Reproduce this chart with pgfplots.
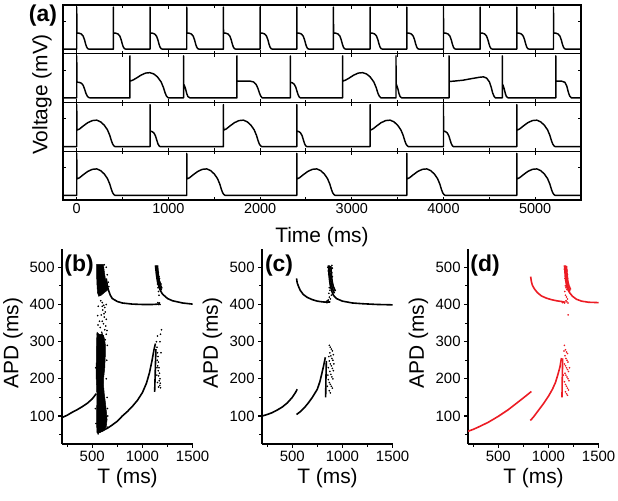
\documentclass[border=0pt]{standalone}
\usepackage{fontspec}
\setmainfont{Liberation Sans}
\usepackage{pgfplots}
\pgfplotsset{compat=1.18}
\definecolor{myred}{RGB}{236,28,36}
\begin{document}
\begin{tikzpicture}
\path[use as bounding box] (0,0) rectangle (618bp,-501bp);
\pgfplotsset{
 every axis/.append style={/pgf/number format/assume math mode=true, /pgf/number format/1000 sep={}},
 vrow/.style={scale only axis, width=518bp, height=48.75bp, xmin=-150, xmax=5500, ymin=-0.11, ymax=1.05,
   xtick={0,1000,2000,3000,4000,5000}, minor xtick={500,1500,2500,3500,4500}, ytick={0.66},
   tick align=inside, major tick length=3.5bp, minor tick length=3bp,
   axis line style={line width=1.2bp}, tick style={line width=1bp, black},
   yticklabels={}, anchor=south west,
   xticklabel style={font=\fontsize{14.5}{16}\selectfont}},
 vcurve/.style={black, line width=1.45bp, line join=round},
 apd/.style={scale only axis, width=130.5bp, height=195.2bp,
   xmin=200, xmax=1500, ymin=25, ymax=550,
   axis x line*=bottom, axis y line*=left,
   xtick={500,1000,1500}, ytick={100,200,300,400,500},
   minor xtick={250,750,1250}, minor ytick={50,150,250,350,450},
   tick align=outside, major tick length=4bp, minor tick length=3bp,
   axis line style={line width=1.3bp}, tick style={line width=1.1bp, black},
   ticklabel style={font=\fontsize{15}{17}\selectfont},
   anchor=south west},
 br/.style={line width=1.6bp, line join=round},
 dots/.style={only marks, mark=*, mark size=0.6bp},
}
% ---------- (a) row 1 ----------
\begin{axis}[vrow, at={(63bp,-53.75bp)}, xticklabels={}]
\addplot[vcurve] coordinates {(-150,0)
(0,0) (0,1) (1,0.38) (25,0.38) (50,0.36) (70,0.31) (85,0.22) (97,0.12) (108,0.05) (120,0.01) (135,0)
(400,0) (400,1) (401,0.38) (425,0.38) (450,0.36) (470,0.31) (485,0.22) (497,0.12) (508,0.05) (520,0.01) (535,0)
(800,0) (800,1) (801,0.38) (825,0.38) (850,0.36) (870,0.31) (885,0.22) (897,0.12) (908,0.05) (920,0.01) (935,0)
(1200,0) (1200,1) (1201,0.38) (1225,0.38) (1250,0.36) (1270,0.31) (1285,0.22) (1297,0.12) (1308,0.05) (1320,0.01) (1335,0)
(1600,0) (1600,1) (1601,0.38) (1625,0.38) (1650,0.36) (1670,0.31) (1685,0.22) (1697,0.12) (1708,0.05) (1720,0.01) (1735,0)
(2000,0) (2000,1) (2001,0.38) (2025,0.38) (2050,0.36) (2070,0.31) (2085,0.22) (2097,0.12) (2108,0.05) (2120,0.01) (2135,0)
(2400,0) (2400,1) (2401,0.38) (2425,0.38) (2450,0.36) (2470,0.31) (2485,0.22) (2497,0.12) (2508,0.05) (2520,0.01) (2535,0)
(2800,0) (2800,1) (2801,0.38) (2825,0.38) (2850,0.36) (2870,0.31) (2885,0.22) (2897,0.12) (2908,0.05) (2920,0.01) (2935,0)
(3200,0) (3200,1) (3201,0.38) (3225,0.38) (3250,0.36) (3270,0.31) (3285,0.22) (3297,0.12) (3308,0.05) (3320,0.01) (3335,0)
(3600,0) (3600,1) (3601,0.38) (3625,0.38) (3650,0.36) (3670,0.31) (3685,0.22) (3697,0.12) (3708,0.05) (3720,0.01) (3735,0)
(4000,0) (4000,1) (4001,0.38) (4025,0.38) (4050,0.36) (4070,0.31) (4085,0.22) (4097,0.12) (4108,0.05) (4120,0.01) (4135,0)
(4400,0) (4400,1) (4401,0.38) (4425,0.38) (4450,0.36) (4470,0.31) (4485,0.22) (4497,0.12) (4508,0.05) (4520,0.01) (4535,0)
(4800,0) (4800,1) (4801,0.38) (4825,0.38) (4850,0.36) (4870,0.31) (4885,0.22) (4897,0.12) (4908,0.05) (4920,0.01) (4935,0)
(5200,0) (5200,1) (5201,0.38) (5225,0.38) (5250,0.36) (5270,0.31) (5285,0.22) (5297,0.12) (5308,0.05) (5320,0.01) (5335,0)
(5500,0)};
\end{axis}
% ---------- (a) row 2 ----------
\begin{axis}[vrow, at={(63bp,-102.5bp)}, xticklabels={}]
\addplot[vcurve] coordinates {(-150,0)
(0,0)(0,1)(1,0.375)(25,0.37)(50,0.35)(70,0.30)(85,0.21)(100,0.11)(115,0.04)(130,0.01)(145,0)
(580,0)(580,1)(581,0.40)(610,0.42)(650,0.47)(700,0.54)(750,0.59)(798,0.60)(840,0.57)(880,0.50)(920,0.38)(945,0.25)(965,0.11)(980,0.04)(998,0)
(1165,0)(1165,1)(1166,0.33)(1173,0.30)(1186,0.22)(1200,0.10)(1213,0.03)(1235,0)
(1747,0)(1747,1)(1748,0.40)(1807,0.40)(1887,0.40)(1927,0.38)(1957,0.32)(1977,0.22)(1992,0.12)(2005,0.05)(2022,0)
(2330,0)(2330,1)(2331,0.37)(2350,0.36)(2370,0.33)(2388,0.26)(2402,0.16)(2415,0.07)(2427,0.02)(2440,0)
(2900,0)(2900,1)(2901,0.40)(2930,0.42)(2970,0.47)(3020,0.54)(3070,0.59)(3118,0.60)(3160,0.57)(3200,0.50)(3240,0.38)(3265,0.25)(3285,0.11)(3300,0.04)(3318,0)
(3482,0)(3482,1)(3483,0.33)(3490,0.30)(3502,0.22)(3515,0.10)(3527,0.03)(3545,0)
(4061,0)(4061,1)(4062,0.39)(4121,0.40)(4211,0.42)(4311,0.46)(4391,0.49)(4436,0.50)(4471,0.47)(4501,0.38)(4521,0.25)(4536,0.12)(4551,0.04)(4566,0)
(4642,0)(4642,1)(4643,0.33)(4650,0.30)(4662,0.22)(4675,0.10)(4687,0.03)(4705,0)
(5225,0)(5225,1)(5226,0.40)(5285,0.40)(5325,0.37)(5345,0.28)(5360,0.15)(5375,0.05)(5395,0)
(5500,0)};
\end{axis}
% ---------- (a) row 3 ----------
\begin{axis}[vrow, at={(63bp,-151.25bp)}, xticklabels={}]
\addplot[vcurve] coordinates {(-150,0)
(0,0)(0,1)(1,0.39)(30,0.42)(70,0.49)(120,0.57)(170,0.62)(218,0.63)(260,0.59)(300,0.51)(335,0.40)(360,0.27)(378,0.14)(392,0.06)(405,0.02)(418,0)
(800,0)(800,1)(801,0.37)(820,0.36)(840,0.33)(858,0.26)(872,0.16)(885,0.07)(897,0.02)(910,0)
(1600,0)(1600,1)(1601,0.39)(1630,0.42)(1670,0.49)(1720,0.57)(1770,0.62)(1818,0.63)(1860,0.59)(1900,0.51)(1935,0.40)(1960,0.27)(1978,0.14)(1992,0.06)(2005,0.02)(2018,0)
(2400,0)(2400,1)(2401,0.37)(2420,0.36)(2440,0.33)(2458,0.26)(2472,0.16)(2485,0.07)(2497,0.02)(2510,0)
(3200,0)(3200,1)(3201,0.39)(3230,0.42)(3270,0.49)(3320,0.57)(3370,0.62)(3418,0.63)(3460,0.59)(3500,0.51)(3535,0.40)(3560,0.27)(3578,0.14)(3592,0.06)(3605,0.02)(3618,0)
(4000,0)(4000,1)(4001,0.37)(4020,0.36)(4040,0.33)(4058,0.26)(4072,0.16)(4085,0.07)(4097,0.02)(4110,0)
(4800,0)(4800,1)(4801,0.39)(4830,0.42)(4870,0.49)(4920,0.57)(4970,0.62)(5018,0.63)(5060,0.59)(5100,0.51)(5135,0.40)(5160,0.27)(5178,0.14)(5192,0.06)(5205,0.02)(5218,0)
(5500,0)};
\end{axis}
% ---------- (a) row 4 ----------
\begin{axis}[vrow, at={(63bp,-200bp)}]
\addplot[vcurve] coordinates {(-150,0)
(0,0)(0,1)(1,0.39)(30,0.42)(70,0.49)(120,0.57)(170,0.62)(218,0.63)(260,0.59)(300,0.51)(335,0.40)(360,0.27)(378,0.14)(392,0.06)(405,0.02)(418,0)
(1200,0)(1200,1)(1201,0.39)(1230,0.42)(1270,0.49)(1320,0.57)(1370,0.62)(1418,0.63)(1460,0.59)(1500,0.51)(1535,0.40)(1560,0.27)(1578,0.14)(1592,0.06)(1605,0.02)(1618,0)
(2400,0)(2400,1)(2401,0.39)(2430,0.42)(2470,0.49)(2520,0.57)(2570,0.62)(2618,0.63)(2660,0.59)(2700,0.51)(2735,0.40)(2760,0.27)(2778,0.14)(2792,0.06)(2805,0.02)(2818,0)
(3600,0)(3600,1)(3601,0.39)(3630,0.42)(3670,0.49)(3720,0.57)(3770,0.62)(3818,0.63)(3860,0.59)(3900,0.51)(3935,0.40)(3960,0.27)(3978,0.14)(3992,0.06)(4005,0.02)(4018,0)
(4800,0)(4800,1)(4801,0.39)(4830,0.42)(4870,0.49)(4920,0.57)(4970,0.62)(5018,0.63)(5060,0.59)(5100,0.51)(5135,0.40)(5160,0.27)(5178,0.14)(5192,0.06)(5205,0.02)(5218,0)
(5500,0)};
\end{axis}
\node[font=\fontsize{21}{24}\selectfont] at (322bp,-237bp) {Time (ms)};
\node[font=\fontsize{21}{24}\selectfont, rotate=90] at (42bp,-94.5bp) {Voltage (mV)};
\node[font=\fontsize{23}{26}\selectfont\bfseries] at (43bp,-16bp) {(a)};
% ---------- (b) ----------
\begin{axis}[apd, at={(62.1bp,-443.9bp)}]
\addplot[fill=black, draw=black, line width=0.5bp] coordinates {(543,508)(610,508)(615,500)(622,485)(632,468)(645,452)(658,442)(650,438)(620,432)(590,425)(565,422)(552,432)(546,460)(543,490)} -- cycle;
\addplot[fill=black, draw=black, line width=0.5bp] coordinates {(548,325)(575,318)(600,322)(620,310)(632,290)(630,260)(625,230)(615,205)(612,185)(620,160)(632,135)(642,110)(648,90)(640,72)(620,62)(595,58)(565,55)(548,55)(545,70)(543,100)(546,140)(545,170)(540,200)(540,240)(542,280)(545,310)} -- cycle;
\addplot[br, black] coordinates {(200,96)(250,102)(300,110)(350,117)(400,125)(450,134)(500,146)(540,160)};
\addplot[br, black] coordinates {(547,55)(600,60)(650,67)(700,76)(750,86)(800,100)(850,112)(900,126)(950,142)(1000,163)(1040,188)(1070,216)(1095,248)(1115,278)(1130,295)};
\addplot[br, black] coordinates {(1122,165)(1126,200)(1130,240)(1135,280)};
\addplot[br, black] coordinates {(640,470)(650,452)(660,440)(680,425)(700,416)(750,408)(800,404)(900,401)(1000,400)(1100,400)(1160,401)};
\addplot[br, black] coordinates {(1130,505)(1140,480)(1150,462)(1165,447)(1180,437)(1200,428)(1250,416)(1300,410)(1400,404)(1500,401)};
\addplot[br, black] coordinates {(1140,505)(1148,480)(1158,462)(1172,448)(1190,438)};
\addplot[br, black] coordinates {(1150,505)(1157,482)(1167,465)(1180,452)(1195,443)};
\addplot[dots, black] coordinates {(585,410)(600,405)(615,398)(625,392)(605,385)(630,380)(590,372)(620,366)(640,360)(600,355)(612,348)(635,342)(580,338)(625,332)(595,325)(640,320)(610,315)(570,318)(630,305)(585,302)(600,395)(640,400)(618,375)(572,355)(648,330)(560,395)(555,370)(558,345)(552,320)
(650,290)(645,250)(640,200)(648,150)(655,100)(650,70)(535,230)(532,120)(538,80)(560,52)(580,58)(630,95)(652,120)(650,480)(660,460)(640,500)(620,507)(665,448)
(1140,300)(1145,285)(1150,270)(1155,260)(1148,250)(1160,245)(1152,235)(1165,230)(1158,222)(1170,215)(1162,208)(1175,200)(1168,195)(1178,188)(1172,182)(1180,176)(1185,270)(1175,300)(1180,320)(1190,332)(1150,315)(1145,230)(1143,210)(1150,190)(1160,178)
(1135,495)(1145,500)(1152,490)(1160,485)(1165,475)(1170,470)(1175,460)(1185,455)(1145,470)(1150,455)(1155,445)(1160,435)(1165,425)(1155,405)(1165,402)(1170,404)(1175,400)(1160,400)};
\end{axis}
% ---------- (c) ----------
\begin{axis}[apd, at={(262.1bp,-443.9bp)}]
\addplot[br, black] coordinates {(200,100)(250,104)(300,109)(350,116)(400,124)(450,135)(500,150)(530,162)(550,172)};
\addplot[br, black] coordinates {(543,104)(577,111)(620,122)(660,135)(700,150)(750,172)(775,192)(795,214)(815,238)(830,258)};
\addplot[br, black] coordinates {(833,150)(836,200)(840,248)};
\addplot[br, black] coordinates {(543,470)(550,458)(565,447)(580,438)(610,427)(650,419)(700,413)(750,409)(800,407)(850,406)(880,407)};
\addplot[br, black] coordinates {(860,505)(870,470)(880,450)(895,435)(910,425)(940,416)(1000,409)(1100,404)(1200,402)(1350,400)(1500,399)};
\addplot[br, black] coordinates {(870,505)(878,478)(888,458)(900,443)(920,430)};
\addplot[br, black] coordinates {(885,503)(891,480)(898,462)(910,448)(930,436)};
\addplot[dots, black] coordinates {(855,500)(860,490)(865,480)(875,495)(880,490)(890,495)(895,485)(900,475)(895,505)(900,498)(885,470)(875,465)(880,455)(870,445)(875,438)(865,430)(870,420)(880,415)(890,425)(860,412)(850,410)(840,408)(845,405)(855,406)(865,407)
(870,290)(880,285)(890,280)(900,275)(875,270)(885,262)(895,255)(905,250)(870,248)(880,240)(890,235)(900,228)(910,222)(875,220)(885,212)(895,205)(905,200)(860,198)(870,190)(880,185)(890,180)(900,175)(870,168)(880,162)(860,230)(855,210)(865,260)(850,180)(910,265)(915,240)};
\end{axis}
% ---------- (d) ----------
\begin{axis}[apd, at={(468.1bp,-443.9bp)}]
\addplot[br, myred] coordinates {(200,59)(250,64)(300,70)(400,83)(500,99)(600,117)(700,138)(780,155)(830,166)};
\addplot[br, myred] coordinates {(820,88)(850,97)(900,115)(950,133)(1000,153)(1040,172)(1070,190)(1095,212)(1115,232)(1130,256)};
\addplot[br, myred] coordinates {(1135,150)(1138,200)(1142,255)};
\addplot[br, myred] coordinates {(823,475)(830,462)(840,452)(860,442)(890,432)(930,423)(980,417)(1030,413)(1080,410)(1130,408)(1170,406)};
\addplot[br, myred] coordinates {(1160,505)(1168,475)(1178,455)(1190,442)(1210,432)(1240,422)(1280,414)(1330,409)(1400,406)(1500,405)};
\addplot[br, myred] coordinates {(1170,505)(1177,478)(1186,458)(1198,445)(1215,435)};
\addplot[br, myred] coordinates {(1180,503)(1186,480)(1194,462)(1205,450)(1222,440)};
\addplot[dots, myred] coordinates {(1160,495)(1165,500)(1170,490)(1175,485)(1180,495)(1185,490)(1190,480)(1165,470)(1172,465)(1180,460)(1190,470)(1195,460)(1168,450)(1176,445)(1185,440)(1163,435)(1170,425)(1180,420)(1190,415)(1175,410)(1185,407)(1195,404)(1150,406)(1160,404)(1140,405)(1197,372)
(1160,290)(1170,278)(1180,272)(1190,268)(1165,262)(1175,255)(1185,250)(1195,245)(1160,240)(1170,235)(1180,230)(1190,225)(1200,220)(1165,215)(1175,210)(1185,205)(1195,200)(1205,195)(1160,192)(1170,185)(1180,180)(1190,175)(1200,170)(1170,165)(1180,160)(1190,156)(1155,275)(1210,230)(1150,210)};
\end{axis}
\node[font=\fontsize{21}{24}\selectfont, rotate=90] at (13bp,-343bp) {APD (ms)};
\node[font=\fontsize{21}{24}\selectfont, rotate=90] at (212.5bp,-343bp) {APD (ms)};
\node[font=\fontsize{21}{24}\selectfont, rotate=90] at (418.5bp,-343bp) {APD (ms)};
\node[font=\fontsize{21}{24}\selectfont] at (127.5bp,-478bp) {T (ms)};
\node[font=\fontsize{21}{24}\selectfont] at (327.5bp,-478bp) {T (ms)};
\node[font=\fontsize{21}{24}\selectfont] at (533.5bp,-478bp) {T (ms)};
\node[font=\fontsize{23}{26}\selectfont\bfseries] at (79bp,-266bp) {(b)};
\node[font=\fontsize{23}{26}\selectfont\bfseries] at (279bp,-266bp) {(c)};
\node[font=\fontsize{23}{26}\selectfont\bfseries] at (485bp,-266bp) {(d)};
\end{tikzpicture}
\end{document}
